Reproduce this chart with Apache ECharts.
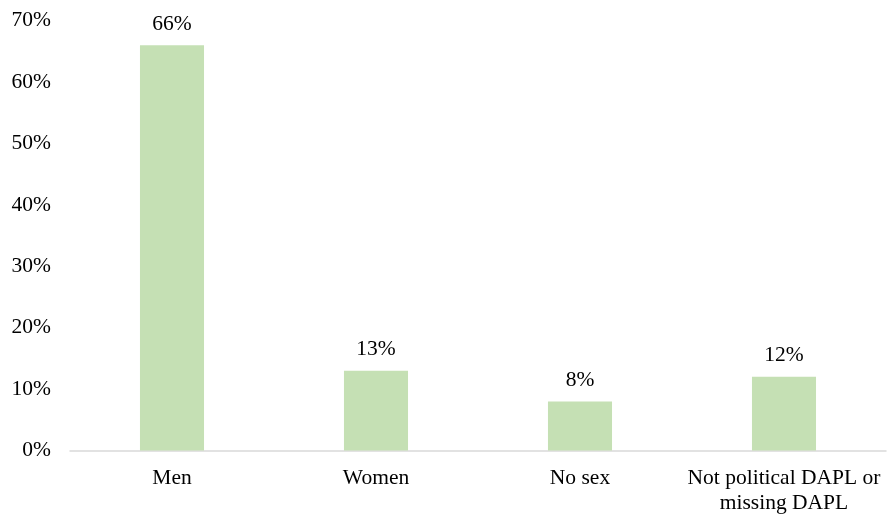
<!DOCTYPE html>
<html>
<head>
<meta charset="utf-8">
<script src="https://cdn.jsdelivr.net/npm/echarts@6/dist/echarts.min.js"></script>
<style>html,body{margin:0;padding:0;background:#fff;}#c{width:888px;height:516px;}</style>
</head>
<body>
<div id="c"></div>
<script>
const categories = ['Men', 'Women', 'No sex', 'Not political DAPL or\nmissing DAPL'];
const values = [66, 13, 8, 12];
const yTicks = [0, 10, 20, 30, 40, 50, 60, 70];

const font = '"Liberation Serif", "Times New Roman", serif';
const chart = echarts.init(document.getElementById('c'));
chart.setOption({
  animation: false,
  grid: { left: 70, right: 2, top: 20.7, bottom: 64, containLabel: false },
  xAxis: {
    type: 'category',
    data: categories,
    axisLine: { lineStyle: { color: '#d9d9d9', width: 1.5 } },
    axisTick: { show: false },
    axisLabel: { color: '#000', fontFamily: font, fontSize: 21.5, margin: 15.5, lineHeight: 25, interval: 0 }
  },
  yAxis: {
    type: 'value',
    min: yTicks[0],
    max: yTicks[yTicks.length - 1],
    interval: 10,
    splitLine: { show: false },
    axisLine: { show: false },
    axisTick: { show: false },
    axisLabel: { color: '#000', fontFamily: font, fontSize: 21.5, margin: 19, formatter: v => v + '%' }
  },
  series: [{
    type: 'bar',
    data: values,
    barWidth: '31.4%',
    itemStyle: { color: '#c5e0b4' },
    label: { show: true, position: 'top', distance: 10, color: '#000', fontFamily: font, fontSize: 21.5, formatter: p => p.value + '%' }
  }]
});
</script>
</body>
</html>
